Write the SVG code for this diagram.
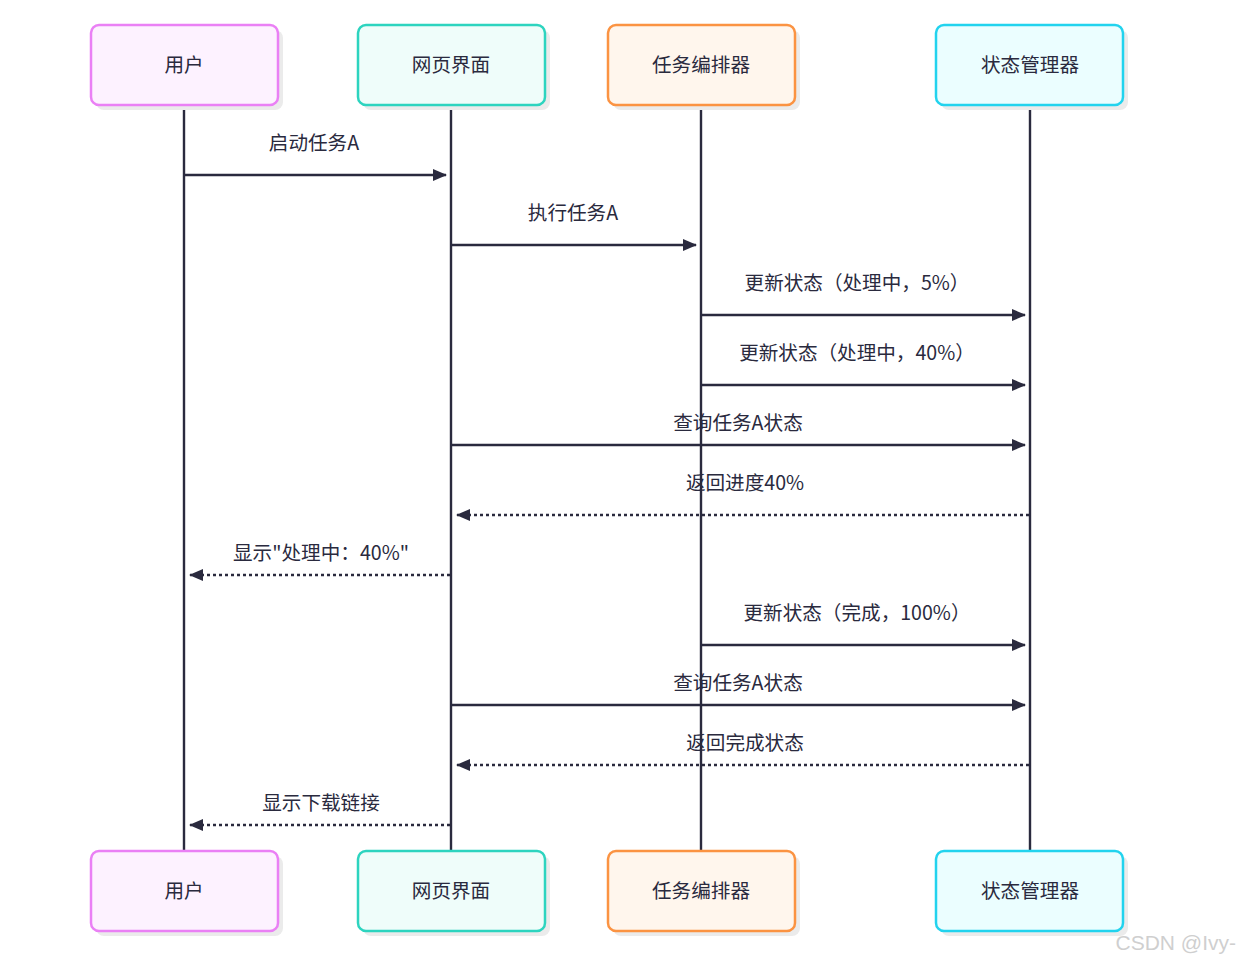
<svg xmlns="http://www.w3.org/2000/svg" width="1240" height="961" viewBox="0 0 1240 961">
<defs>
<marker id="arr" markerWidth="14" markerHeight="12" refX="13" refY="6" orient="auto" markerUnits="userSpaceOnUse">
<path d="M0,0 L14,6 L0,12 Z" fill="#2a2a3e"/>
</marker>
</defs>
<style>
.sh{fill:#ebebeb;}
.box{stroke-width:2.5;}
.lbl{font-family:"Noto Sans CJK SC","Noto Sans",sans-serif;font-size:19.6px;fill:#2a2a3e;text-anchor:middle;dominant-baseline:central;}
.life{stroke:#2a2a3e;stroke-width:2.4;}
.msg{stroke:#2a2a3e;stroke-width:2.4;fill:none;}
.dash{stroke-dasharray:3,3;}
.u{fill:#fdf2ff;stroke:#ea80f5;}
.w{fill:#effdfa;stroke:#2dd4bf;}
.t{fill:#fff6ed;stroke:#fb9342;}
.s{fill:#ebfeff;stroke:#22d3ee;}
</style>
<rect width="1240" height="961" fill="#ffffff"/>
<g id="lifelines">
<line class="life" x1="184" y1="105" x2="184" y2="851"/>
<line class="life" x1="451" y1="105" x2="451" y2="851"/>
<line class="life" x1="701" y1="105" x2="701" y2="851"/>
<line class="life" x1="1030" y1="105" x2="1030" y2="851"/>
</g>
<g id="user-top"><rect class="sh" x="96" y="30" width="187" height="80" rx="8"/><rect class="box u" x="91" y="25" width="187" height="80" rx="8"/><text class="lbl" x="184" y="63">用户</text></g>
<g id="web-top"><rect class="sh" x="363" y="30" width="187" height="80" rx="8"/><rect class="box w" x="358" y="25" width="187" height="80" rx="8"/><text class="lbl" x="451" y="63">网页界面</text></g>
<g id="orch-top"><rect class="sh" x="613" y="30" width="187" height="80" rx="8"/><rect class="box t" x="608" y="25" width="187" height="80" rx="8"/><text class="lbl" x="701" y="63">任务编排器</text></g>
<g id="state-top"><rect class="sh" x="941" y="30" width="187" height="80" rx="8"/><rect class="box s" x="936" y="25" width="187" height="80" rx="8"/><text class="lbl" x="1030" y="63">状态管理器</text></g>
<g id="user-bottom"><rect class="sh" x="96" y="856" width="187" height="80" rx="8"/><rect class="box u" x="91" y="851" width="187" height="80" rx="8"/><text class="lbl" x="184" y="889">用户</text></g>
<g id="web-bottom"><rect class="sh" x="363" y="856" width="187" height="80" rx="8"/><rect class="box w" x="358" y="851" width="187" height="80" rx="8"/><text class="lbl" x="451" y="889">网页界面</text></g>
<g id="orch-bottom"><rect class="sh" x="613" y="856" width="187" height="80" rx="8"/><rect class="box t" x="608" y="851" width="187" height="80" rx="8"/><text class="lbl" x="701" y="889">任务编排器</text></g>
<g id="state-bottom"><rect class="sh" x="941" y="856" width="187" height="80" rx="8"/><rect class="box s" x="936" y="851" width="187" height="80" rx="8"/><text class="lbl" x="1030" y="889">状态管理器</text></g>
<g id="connectors">
<line class="msg" x1="185" y1="175" x2="446" y2="175" marker-end="url(#arr)"/>
<text class="lbl" x="314" y="141">启动任务A</text>
<line class="msg" x1="452" y1="245" x2="696" y2="245" marker-end="url(#arr)"/>
<text class="lbl" x="573" y="211">执行任务A</text>
<line class="msg" x1="702" y1="315" x2="1025" y2="315" marker-end="url(#arr)"/>
<text class="lbl" x="857" y="281">更新状态（处理中，5%）</text>
<line class="msg" x1="702" y1="385" x2="1025" y2="385" marker-end="url(#arr)"/>
<text class="lbl" x="857" y="351">更新状态（处理中，40%）</text>
<line class="msg" x1="452" y1="445" x2="1025" y2="445" marker-end="url(#arr)"/>
<text class="lbl" x="738" y="421">查询任务A状态</text>
<line class="msg dash" x1="1029" y1="515" x2="457" y2="515" marker-end="url(#arr)"/>
<text class="lbl" x="745" y="481">返回进度40%</text>
<line class="msg dash" x1="450" y1="575" x2="190" y2="575" marker-end="url(#arr)"/>
<text class="lbl" x="321" y="551">显示"处理中：40%"</text>
<line class="msg" x1="702" y1="645" x2="1025" y2="645" marker-end="url(#arr)"/>
<text class="lbl" x="857" y="611">更新状态（完成，100%）</text>
<line class="msg" x1="452" y1="705" x2="1025" y2="705" marker-end="url(#arr)"/>
<text class="lbl" x="738" y="681">查询任务A状态</text>
<line class="msg dash" x1="1029" y1="765" x2="457" y2="765" marker-end="url(#arr)"/>
<text class="lbl" x="745" y="741">返回完成状态</text>
<line class="msg dash" x1="450" y1="825" x2="190" y2="825" marker-end="url(#arr)"/>
<text class="lbl" x="321" y="801">显示下载链接</text>
</g>
<text x="1236" y="950" font-family="Liberation Sans, Arial, sans-serif" font-size="21" fill="#cfcfcf" text-anchor="end">CSDN @Ivy-</text>
</svg>
